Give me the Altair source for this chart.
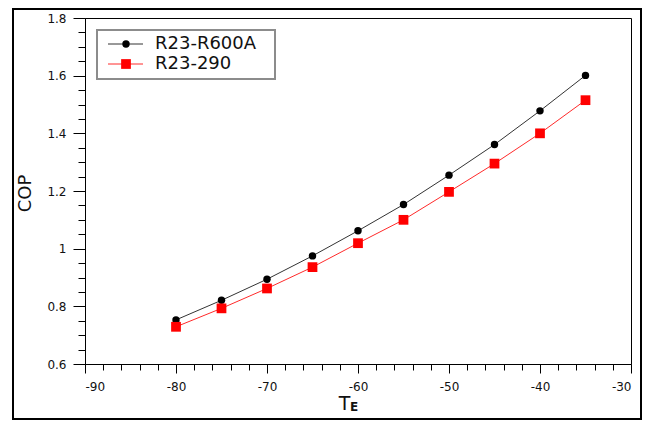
import altair as alt
import pandas as pd

# ---- data ----
temps = [-80, -75, -70, -65, -60, -55, -50, -45, -40, -35]
series_names = ["R23-R600A", "R23-290"]
cop_r600a = [0.753, 0.821, 0.894, 0.975, 1.062, 1.153, 1.255, 1.361, 1.478, 1.601]
cop_r290 = [0.729, 0.793, 0.862, 0.936, 1.019, 1.100, 1.197, 1.295, 1.400, 1.515]
marker_colors = ["#000000", "#ff0000"]
line_colors = ["#333333", "#ff2a2a"]
marker_shapes = ["circle", "square"]
marker_sizes = [55, 95]
x_ticks = list(range(-90, -29, 2))
y_ticks = [round(0.6 + 0.05 * i, 2) for i in range(25)]

rows = []
for name, vals in zip(series_names, [cop_r600a, cop_r290]):
    for t, v in zip(temps, vals):
        rows.append({"series": name, "T": t, "COP": v})
df = pd.DataFrame(rows)

W, H = 546, 346
FONT = "DejaVu Sans"

x_axis = alt.Axis(
    values=x_ticks,
    labelExpr="datum.value % 10 === 0 ? datum.value + '' : ''",
    tickSize={"condition": {"test": "datum.value % 10 === 0", "value": 9}, "value": 6},
    labelPadding=8,
    title="T",
    titleX=259,
    titleY=45,
    titleAlign="center",
    titleBaseline="alphabetic",
    titleFontSize=19,
    titleFontWeight="normal",
    grid=False,
)
y_axis = alt.Axis(
    values=y_ticks,
    labelExpr="abs(datum.value*5 - round(datum.value*5)) < 1e-6 ? datum.value + '' : ''",
    tickSize={"condition": {"test": "abs(datum.value*5 - round(datum.value*5)) < 1e-6", "value": 12}, "value": 7},
    labelPadding=7,
    title="COP",
    titleX=-55,
    titleY=175,
    titleAngle=-90,
    titleAlign="center",
    titleBaseline="alphabetic",
    titleFontSize=18,
    titleFontWeight="normal",
    grid=False,
)

x_enc = alt.X("T:Q", scale=alt.Scale(domain=[-90, -30], nice=False, zero=False), axis=x_axis)
y_enc = alt.Y("COP:Q", scale=alt.Scale(domain=[0.6, 1.8], nice=False, zero=False), axis=y_axis)

color_scale = alt.Scale(domain=series_names, range=line_colors)
fill_scale = alt.Scale(domain=series_names, range=marker_colors)
shape_scale = alt.Scale(domain=series_names, range=marker_shapes)
size_scale = alt.Scale(domain=series_names, range=marker_sizes)

one = alt.Data(values=[{"k": 1}])

frame = alt.Chart(one).mark_rect(fill="transparent", stroke="black", strokeWidth=2).encode(
    x=alt.value(-72), x2=alt.value(556), y=alt.value(-9), y2=alt.value(401)
)

lines = alt.Chart(df).mark_line(strokeWidth=1).encode(
    x=x_enc, y=y_enc,
    color=alt.Color("series:N", scale=color_scale, legend=None),
)
points = alt.Chart(df).mark_point(filled=True, opacity=1).encode(
    x=x_enc, y=y_enc,
    fill=alt.Fill("series:N", scale=fill_scale, legend=None),
    shape=alt.Shape("series:N", scale=shape_scale, legend=None),
    size=alt.Size("series:N", scale=size_scale, legend=None),
)

legend_box = alt.Chart(one).mark_rect(fill="white", stroke="#8c8c8c", strokeWidth=2).encode(
    x=alt.value(12), x2=alt.value(190), y=alt.value(12), y2=alt.value(61)
)
legend_layers = [legend_box]
for i, name in enumerate(series_names):
    yy = 26 + 20 * i
    legend_layers.append(
        alt.Chart(one).mark_rule(color=line_colors[i], strokeWidth=1).encode(
            x=alt.value(23), x2=alt.value(58), y=alt.value(yy)
        )
    )
    legend_layers.append(
        alt.Chart(one).mark_point(filled=True, opacity=1, shape=marker_shapes[i],
                                  size=marker_sizes[i], color=marker_colors[i]).encode(
            x=alt.value(41), y=alt.value(yy)
        )
    )
    legend_layers.append(
        alt.Chart(one).mark_text(align="left", baseline="middle", fontSize=18, font=FONT,
                                 color="#111111").encode(
            x=alt.value(70), y=alt.value(yy), text=alt.value(name)
        )
    )

sub_e = alt.Chart(one).mark_text(align="left", baseline="alphabetic", fontSize=12,
                                 fontWeight="bold", font=FONT, color="#111111").encode(
    x=alt.value(265), y=alt.value(393), text=alt.value("E")
)

chart = alt.layer(frame, lines, points, *legend_layers, sub_e).properties(
    width=W, height=H,
    autosize=alt.AutoSizeParams(type="none"),
    padding={"left": 77, "top": 10, "right": 12, "bottom": 56},
    background="white",
).configure_view(
    stroke="black", strokeWidth=1
).configure_axis(
    domainColor="black", domainWidth=1, tickColor="black", tickWidth=1,
    labelFont=FONT, labelFontSize=12, labelColor="#111111",
    titleFont=FONT, titleColor="#111111",
)

chart.save("out.html", embed_options={"renderer": "svg", "actions": False})
